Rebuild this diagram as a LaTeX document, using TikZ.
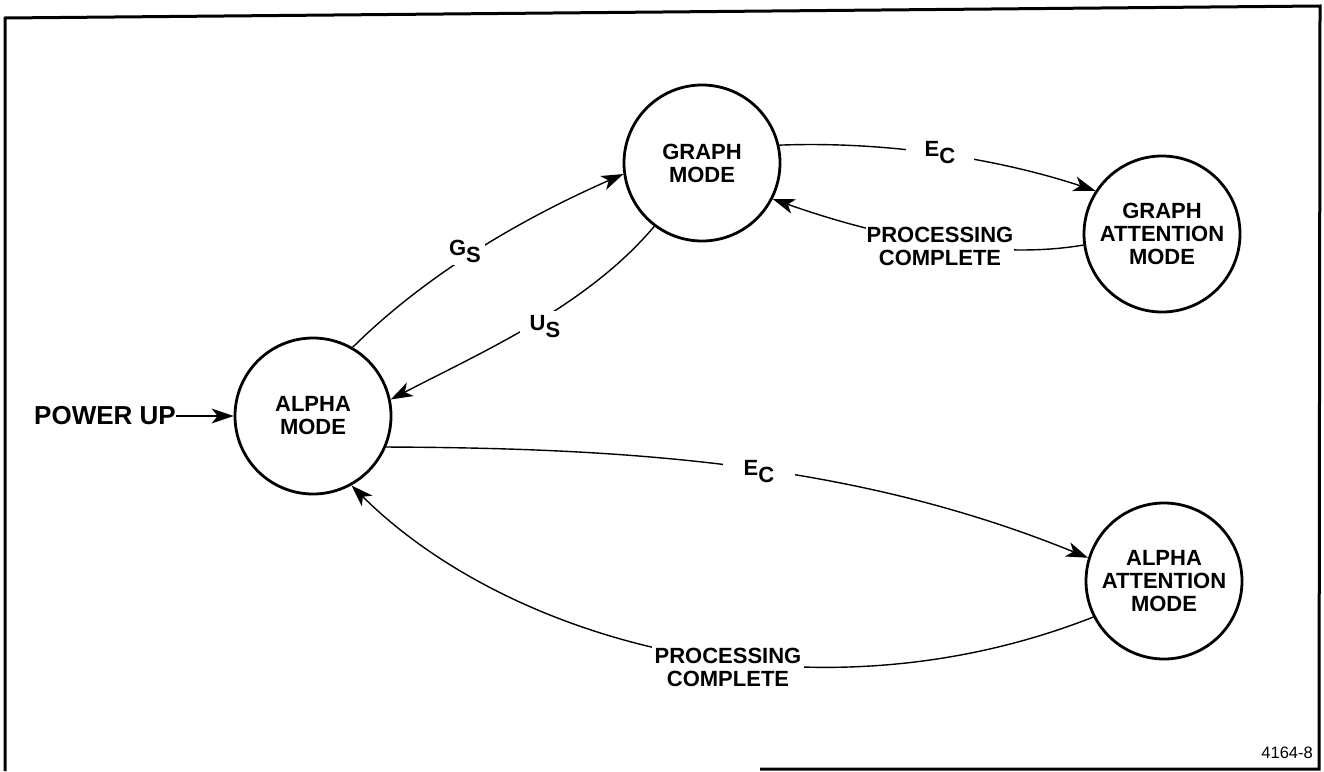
\documentclass[tikz,border=0pt]{standalone}
\usepackage{fontspec}
\setmainfont{Liberation Sans}
\usetikzlibrary{arrows.meta}

\begin{document}
\begin{tikzpicture}[x=1pt, y=-1pt,
  statenode/.style={draw, circle, line width=2.8pt, minimum size=156pt, inner sep=0pt,
    align=center, font=\fontsize{22}{23}\selectfont\bfseries},
  conn/.style={line width=1.4pt, -{Stealth[length=22pt, width=15pt, inset=6pt]}},
  lbl/.style={fill=white, inner sep=2.5pt, align=center, font=\fontsize{22}{23}\selectfont\bfseries},
  frame/.style={line width=3pt}
]
\useasboundingbox (0,0) rectangle (1324,771);

% outer border
\draw[frame] (760,769) -- (1319,769) -- (1320,6) -- (5,18) -- (5,771);

% states
\node[statenode] (alpha) at (313,416) {ALPHA\\MODE};
\node[statenode] (graph) at (702,163) {GRAPH\\MODE};
\node[statenode] (ga) at (1162,234) {GRAPH\\ATTENTION\\MODE};
\node[statenode] (aa) at (1164,581) {ALPHA\\ATTENTION\\MODE};

% entry point
\node[inner sep=0pt, anchor=east, font=\fontsize{26}{28}\selectfont\bfseries] (pu) at (176,416) {POWER UP};
\draw[conn] (pu.east) -- (alpha.west);

% transitions
\draw[conn] (alpha.60) .. controls (431,270) and (528,216) .. (graph.188);
\draw[conn] (graph.233) .. controls (587,306) and (484,351) .. (alpha.12);
\draw[conn] (graph.13) .. controls (885,141) and (996,158) .. (ga.147);
\draw[conn] (ga.188) .. controls (985,262) and (866,232) .. (graph.-27);
\draw[conn] (alpha.-23) .. controls (635,448) and (858,464) .. (aa.163);
\draw[conn] (aa.207) .. controls (811,728) and (508,641) .. (alpha.-61);

% transition labels (the white fill breaks the line behind each one)
\node[lbl, inner xsep=4pt, inner ysep=3pt] (gs) at (465,251) {G\raisebox{-7pt}{S}};
\node[lbl, inner xsep=10pt, inner ysep=5pt] (us) at (545,327) {U\raisebox{-7pt}{S}};
\node[lbl, inner xsep=19pt, inner ysep=2pt] (ec1) at (940,153) {E\raisebox{-7pt}{C}};
\node[lbl, inner sep=1pt] (pc1) at (940,246) {PROCESSING\\COMPLETE};
\node[lbl, inner xsep=21pt, inner ysep=2pt] (ec2) at (759,472) {E\raisebox{-7pt}{C}};
\node[lbl, inner sep=3pt] (pc2) at (728,667) {PROCESSING\\COMPLETE};

% figure number
\node[inner sep=0pt, anchor=base east, font=\fontsize{16.5}{18}\selectfont] (fignum) at (1313,758) {4164-8};
\end{tikzpicture}
\end{document}
